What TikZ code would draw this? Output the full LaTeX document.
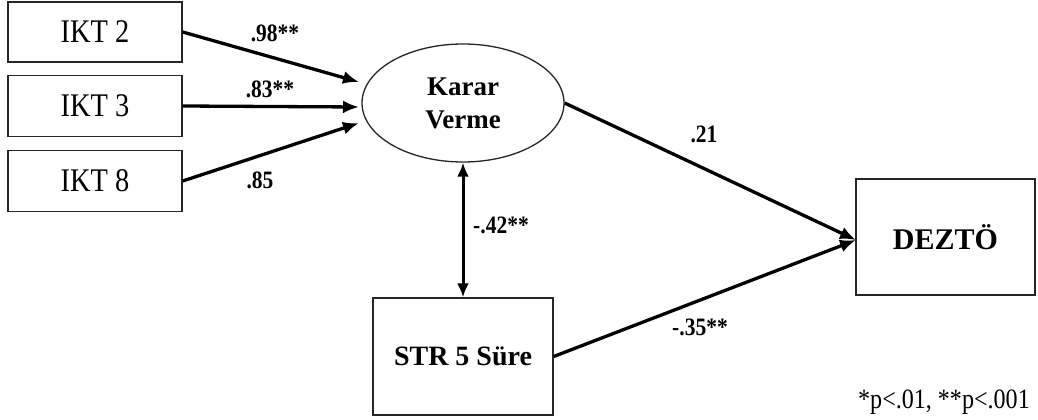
\documentclass[tikz,border=0pt]{standalone}
\usepackage{fontspec}
\setmainfont{Liberation Serif}
\newfontfamily\condserif[FakeStretch=0.86]{Liberation Serif}
\usetikzlibrary{arrows.meta,shapes.geometric}
\begin{document}
\begin{tikzpicture}[x=1pt,y=-1pt,
  obsbox/.style={draw=black!85,line width=1.4pt,inner sep=0pt},
  latent/.style={ellipse,draw=black!85,line width=1.3pt,inner sep=0pt,minimum width=202pt,minimum height=118pt},
  path/.style={line width=3.3pt,-{Latex[length=16pt,width=13pt]}},
  cov/.style={line width=3pt,{Latex[length=14pt,width=12pt]}-{Latex[length=14pt,width=12pt]}},
  coef/.style={font=\condserif\bfseries\fontsize{25}{27}\selectfont,inner sep=0pt},
  boxtxt/.style={font=\condserif\fontsize{33}{36}\selectfont}]
\useasboundingbox (0,0) rectangle (1038,420);
\fill[white] (0,0) rectangle (1038,420);

\node[obsbox,minimum width=174pt,minimum height=60pt,boxtxt] (ikt2) at (95,32) {IKT 2};
\node[obsbox,minimum width=174pt,minimum height=61pt,boxtxt] (ikt3) at (95,106) {IKT 3};
\node[obsbox,minimum width=174pt,minimum height=61pt,boxtxt] (ikt8) at (95,181) {IKT 8};

\node[latent,align=center,font=\bfseries\fontsize{27}{33}\selectfont] (kv) at (463,103) {Karar\\Verme};

\node[obsbox,minimum width=179pt,minimum height=116pt,font=\bfseries\fontsize{30}{34}\selectfont] (dez) at (945.5,237) {DEZTÖ};
\node[obsbox,minimum width=180pt,minimum height=117pt,font=\bfseries\fontsize{28}{32}\selectfont] (str) at (463,356.5) {STR 5 Süre};

\coordinate (t2) at (359,82);
\coordinate (t3) at (359,107);
\coordinate (t8) at (359,123);
\coordinate (dtip) at (856,240);

\draw[path] (ikt2.east) -- (t2);
\draw[path] (ikt3.east) -- (t3);
\draw[path] (ikt8.east) -- (t8);
\draw[path] (kv.east) -- (dtip);
\draw[path] (str.east) -- (dtip);
\draw[cov] (kv.south) -- (str.north);

\node[coef] (c98) at (275,33) {.98**};
\node[coef] (c83) at (270,89) {.83**};
\node[coef] (c85) at (260,180) {.85};
\node[coef] (c21) at (704,134) {.21};
\node[coef] (c42) at (501,225) {-.42**};
\node[coef] (c35) at (700,327) {-.35**};

\node[anchor=base east,inner sep=0pt,font=\condserif\fontsize{28}{30}\selectfont] (note) at (1030,408) {*p<.01, **p<.001};
\end{tikzpicture}
\end{document}
